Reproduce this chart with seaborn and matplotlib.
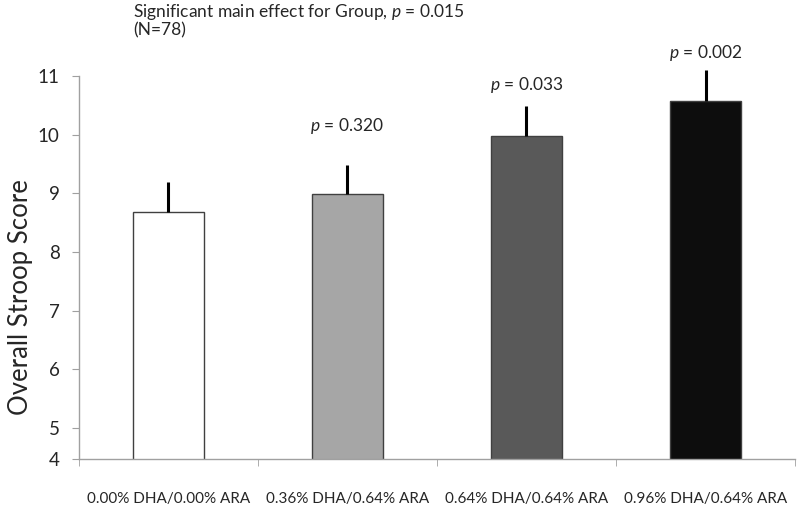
import numpy as np
import pandas as pd
import seaborn as sns
import matplotlib.pyplot as plt

# dati
groups = ['0.00% DHA/0.00% ARA', '0.36% DHA/0.64% ARA',
          '0.64% DHA/0.64% ARA', '0.96% DHA/0.64% ARA']
means = [8.68, 8.98, 9.97, 10.58]
errors = [0.51, 0.51, 0.52, 0.52]
colors = ['#ffffff', '#a6a6a6', '#595959', '#0d0d0d']
p_labels = [None, '0.320', '0.033', '0.002']
p_heights = [None, 10.15, 10.84, 11.4]
ytick_values = [4.47, 5, 6, 7, 8, 9, 10, 11]
ytick_labels = ['4', '5', '6', '7', '8', '9', '10', '11']

df = pd.DataFrame({'group': groups, 'score': means})

sns.set_style('white')
plt.rcParams['font.family'] = ['Lato', 'DejaVu Sans']
plt.rcParams['mathtext.fontset'] = 'custom'
plt.rcParams['mathtext.it'] = 'Lato:italic'

fig = plt.figure(figsize=(7.97, 5.18), dpi=100)
ax = fig.add_axes([0.0991, 0.1139, 0.8984, 0.7394])

sns.barplot(data=df, x='group', y='score', hue='group', palette=colors,
            legend=False, width=0.4, edgecolor='#404040', linewidth=1,
            errorbar=None, ax=ax)
# solo la barra di errore superiore
ax.errorbar(range(len(means)), means, yerr=[np.zeros(len(means)), errors],
            fmt='none', ecolor='black', elinewidth=2.2, capsize=0, clip_on=False)

for i, (lab, h) in enumerate(zip(p_labels, p_heights)):
    if lab is None:
        continue
    ax.text(i, h, r'$\it{p}$' + ' = ' + lab, ha='center', va='center',
            fontsize=12.5, clip_on=False)

ax.set_ylim(4.47, 11)
ax.set_xlim(-0.5, 3.5)
ax.set_yticks(ytick_values)
ax.set_yticklabels(ytick_labels, fontsize=13.5)
ax.set_xticks(range(len(groups)))
ax.set_xticklabels(groups, fontsize=11)
ax.set_xticks(np.arange(-0.5, 4.0, 1.0), minor=True)
ax.tick_params(axis='x', which='major', length=0, pad=24)
ax.tick_params(axis='x', which='minor', length=5, color='#a0a0a0', direction='out', bottom=True)
ax.tick_params(axis='y', length=5, color='#a0a0a0', direction='out', left=True, pad=9)
ax.set_xlabel('')
ax.set_ylabel('Overall Stroop Score', fontsize=18.5)
ax.yaxis.set_label_coords(-0.064, 0.423)

for side in ['top', 'right']:
    ax.spines[side].set_visible(False)
for side in ['left', 'bottom']:
    ax.spines[side].set_color('#a0a0a0')
    ax.spines[side].set_linewidth(1)

fig.text(133 / 797, 1 - 12 / 518, 'Significant main effect for Group, ' + r'$\it{p}$' + ' = 0.015',
         fontsize=12.5, va='center', ha='left')
fig.text(133 / 797, 1 - 30 / 518, '(N=78)', fontsize=12.5, va='center', ha='left')

plt.savefig('out.png', dpi=100)
